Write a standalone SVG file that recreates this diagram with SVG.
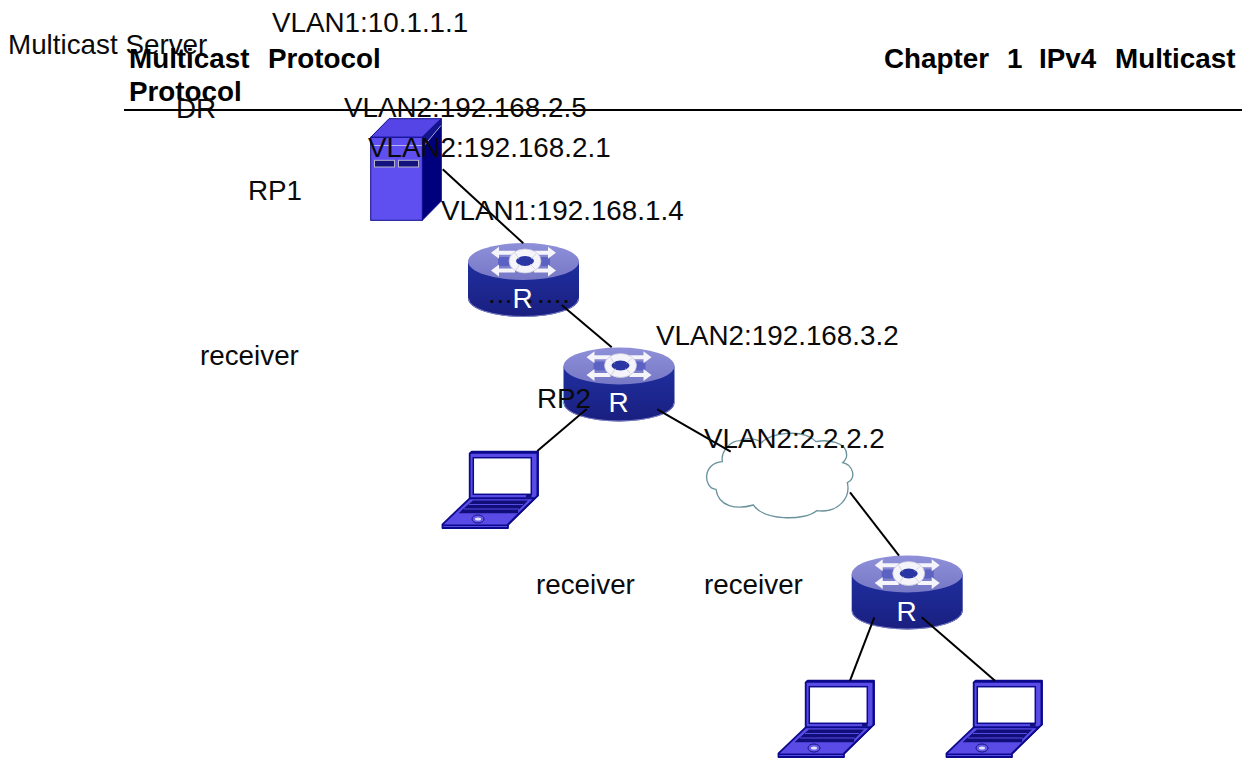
<svg xmlns="http://www.w3.org/2000/svg" width="1242" height="758" viewBox="0 0 1242 758">
<style>
text{font-family:"Liberation Sans",Arial,sans-serif;font-size:27.8px;fill:#0a0a0a}
.b{font-weight:bold;fill:#000}
.r{fill:#fff;font-size:28px}
.c{fill:none;stroke:#000;stroke-width:2}
.lo{fill:#5a4be6;stroke:#0c0a8c;stroke-width:1.8;stroke-linejoin:round}
.ld{fill:#100e78}
.ar{fill:#f4f4fa}
</style>
<defs>
<linearGradient id="rb" x1="0" y1="0" x2="0" y2="1"><stop offset="0" stop-color="#1f2f9f"/><stop offset="1" stop-color="#1a1f80"/></linearGradient>
<linearGradient id="rt" x1="0" y1="0" x2="0" y2="1"><stop offset="0" stop-color="#8f90d9"/><stop offset="1" stop-color="#7778c6"/></linearGradient>
<g id="router">
<path d="M0 18.500V55.500A55.500 18.500 0 0 0 111 55.500V18.500Z" fill="url(#rb)"/>
<path d="M.5 55.500A55 18 0 0 0 110.500 55.500" fill="none" stroke="#7f84c8" stroke-width="1"/>
<ellipse cx="55.500" cy="18.500" rx="55.500" ry="18.500" fill="url(#rt)"/>
<rect x="30" y="14" width="52" height="9" fill="#5c62c4"/>
<path class="ar" d="M23 9.700l8-6v4h16v4H31v4zM88 9.700l-8-6v4H66v4h14v4z"/>
<path class="ar" d="M23 27.500l8-6v4h16v4H31v4zM88 27.500l-8-6v4H66v4h14v4z"/>
<ellipse cx="57" cy="18" rx="12.500" ry="8.500" fill="#2a36a4" stroke="#f4f4fa" stroke-width="7"/>
<ellipse cx="57" cy="18" rx="16" ry="12" fill="none" stroke="#c4c4d8" stroke-width=".7"/>
<path d="M47 10L51 16M68 11L63 16M48 27L52 21M67 26L62 21" stroke="#c4c4d8" stroke-width=".7"/>
</g>
<g id="laptop">
<path class="lo" d="M27.700 2.500L29.700 .7H96V44.500L92.700 47.500H27.700Z"/>
<path d="M29 1.700H95.500V45" fill="none" stroke="#0c0a8c" stroke-width="2"/>
<rect x="31.300" y="6.700" width="58" height="36.600" fill="#fff" stroke="#0c0a8c" stroke-width="1.500"/>
<rect x="84" y="44" width="5.500" height="2.300" fill="#100e78"/>
<path class="lo" d="M27.700 47.300H92.700L66 73.300V77H.5V73.300Z"/>
<path d="M1 74.300H66M66.500 73.500L92.500 48" stroke="#0c0a8c" stroke-width="1.500" fill="none"/>
<path class="ld" d="M31 49.500H86L76 59.500V62.300H16.700L20 59Z"/>
<path d="M27 53.500H81M22 58H77" stroke="#5a4be6" stroke-width="1"/>
<ellipse cx="36" cy="68" rx="6" ry="4" fill="#6a5cea" stroke="#14127e" stroke-width="1"/>
<ellipse cx="36" cy="68" rx="3" ry="1.500" fill="#e4e4f4"/>
</g>
</defs>
<g id="rule"><path d="M124 110H1242" stroke="#000" stroke-width="2"/></g>
<g id="server">
<path d="M370.700 137.300L389 118.700H441.300L422.300 137.300Z" fill="#5645e6" stroke="#0c0a8c" stroke-width="1"/>
<path d="M422.300 137.300L441.300 118.700V201L422.300 220.300Z" fill="#00007c" stroke="#0c0a8c" stroke-width="1"/>
<path d="M422.800 147L441 125.500V118.700L422.800 137Z" fill="#14148c"/>
<path d="M423 147L441 125.500" stroke="#a6a6d8" stroke-width="1" fill="none"/>
<rect x="370.700" y="137.300" width="51.600" height="83" fill="#5f4ff0" stroke="#0c0a8c" stroke-width="1"/>
<path d="M371.500 145.500H422" stroke="#b8b4f4" stroke-width="1"/>
<rect x="374.500" y="160.300" width="20" height="6.700" fill="#14127e" stroke="#b4b4c4" stroke-width="1"/>
<rect x="398.500" y="160.300" width="20" height="6.700" fill="#14127e" stroke="#b4b4c4" stroke-width="1"/>
</g>
<g id="cloud">
<path transform="translate(690 420) scale(.3333)" fill="#fff" stroke="#6a929c" stroke-width="4" d="M97 125C92 90 125 62 150 62C170 52 200 55 215 68C240 38 340 25 378 65C410 58 470 65 470 105C470 115 465 122 458 128C490 135 500 175 472 188C482 230 450 280 380 272C340 305 220 300 190 255C140 270 85 260 78 208C40 205 35 130 97 125Z"/>
</g>
<g id="router1"><use href="#router" x="468" y="243"/></g>
<g id="router2"><use href="#router" x="563.500" y="347.500"/></g>
<g id="router3"><use href="#router" x="851.700" y="555.500"/></g>
<g id="laptop1"><use href="#laptop" x="442" y="451"/></g>
<g id="laptop2"><use href="#laptop" x="778" y="680"/></g>
<g id="laptop3"><use href="#laptop" x="946" y="680"/></g>
<g id="connectors">
<path class="c" d="M442.700 169.300L523.300 243.300"/>
<path class="c" d="M561.700 305L611.700 347.300"/>
<path class="c" d="M586.700 409L537.300 451"/>
<path class="c" d="M657.300 409.300L730.700 451.700"/>
<path class="c" d="M850 492.300L899 555.700"/>
<path class="c" d="M874.300 617.300L850 680.700"/>
<path class="c" d="M921.700 617.300L995 680.700"/>
</g>
<g id="labels">
<text x="8" y="54">Multicast Server</text>
<text x="272" y="32">VLAN1:10.1.1.1</text>
<text class="b" x="129" y="68">Multicast</text>
<text class="b" x="268" y="68">Protocol</text>
<text class="b" x="129" y="101">Protocol</text>
<text class="b" x="884" y="68">Chapter</text>
<text class="b" x="1007" y="68">1</text>
<text class="b" x="1039" y="68">IPv4</text>
<text class="b" x="1115" y="68">Multicast</text>
<text x="176" y="118">DR</text>
<text x="344" y="117">VLAN2:192.168.2.5</text>
<text x="368" y="157">VLAN2:192.168.2.1</text>
<text x="248" y="200">RP1</text>
<text x="441" y="220">VLAN1:192.168.1.4</text>
<text x="488" y="303" letter-spacing=".7">...</text>
<text x="526" y="303" letter-spacing=".7">.</text>
<text x="537" y="303" letter-spacing=".7">....</text>
<text class="r" x="512.500" y="308">R</text>
<text x="656" y="345">VLAN2:192.168.3.2</text>
<text x="200" y="365">receiver</text>
<text class="r" x="608.500" y="412">R</text>
<text x="537" y="408">RP2</text>
<text x="704" y="448">VLAN2:2.2.2.2</text>
<text x="536" y="594">receiver</text>
<text x="704" y="594">receiver</text>
<text class="r" x="896.500" y="621">R</text>
</g>
</svg>
